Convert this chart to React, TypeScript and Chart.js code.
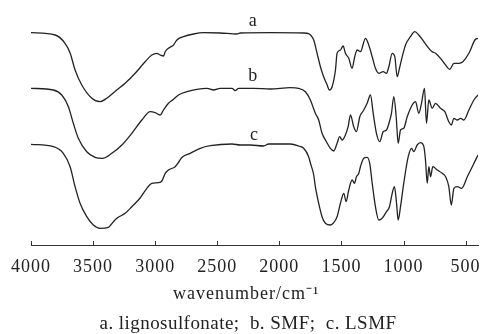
import React, { useEffect, useRef } from "react";
import { Chart, registerables } from "chart.js";

Chart.register(...registerables);

// Wavenumbers (cm^-1) and relative transmittance (a.u.)
const wnA = [4000, 3806, 3726, 3685, 3645, 3591, 3510, 3444, 3390, 3309, 3242, 3161, 3081, 3027, 2986, 2960, 2933, 2919, 2893, 2852, 2825, 2772, 2691, 2610, 2476, 2341, 2315, 2073, 1804, 1764, 1742, 1723, 1696, 1669, 1643, 1615, 1597, 1575, 1548, 1535, 1508, 1486, 1468, 1441, 1414, 1393, 1373, 1347, 1306, 1280, 1252, 1226, 1199, 1164, 1137, 1118, 1091, 1070, 1051, 1032, 1010, 984, 944, 909, 877, 836, 796, 769, 742, 702, 661, 627, 594, 554, 522, 473, 425, 400];
const tA = [212.3, 210, 201.7, 192, 175, 160, 146.7, 143.3, 146.7, 155, 161.7, 171.7, 183.3, 190, 191.7, 190, 189, 193.3, 196.7, 200, 205, 208.3, 211, 212.3, 212, 211, 212, 212.3, 212, 211.3, 209, 205, 191.7, 178.3, 168.3, 160, 155, 158.3, 175, 191.7, 195, 199, 191.7, 186.7, 176.7, 188.3, 195, 193.3, 206.7, 200, 188.3, 176.7, 171.7, 173.3, 171.7, 178.3, 191.7, 188.3, 168.3, 177, 188.3, 200, 208.3, 213.3, 210, 203.3, 196.7, 193.3, 191.7, 186.7, 180, 175.7, 181.7, 181.7, 183.3, 191.7, 205, 206.7];

const wnB = [4000, 3820, 3752, 3699, 3659, 3619, 3551, 3484, 3425, 3349, 3268, 3188, 3107, 3040, 3000, 2960, 2933, 2893, 2852, 2812, 2744, 2664, 2583, 2530, 2476, 2381, 2355, 2328, 2207, 2073, 1911, 1844, 1790, 1750, 1710, 1683, 1656, 1621, 1589, 1562, 1535, 1514, 1494, 1468, 1446, 1427, 1401, 1379, 1352, 1320, 1293, 1266, 1244, 1218, 1191, 1164, 1137, 1110, 1097, 1078, 1059, 1043, 1024, 998, 970, 930, 903, 877, 855, 831, 815, 796, 769, 742, 702, 667, 635, 615, 594, 567, 540, 514, 473, 433, 400];
const tB = [156.7, 155, 150, 138.3, 121.7, 106.7, 93.3, 87.7, 86.7, 91.7, 100, 111.7, 125, 133.3, 132.3, 130, 135, 141.7, 145.7, 150, 153.3, 155.7, 156.7, 155, 156.7, 156.7, 154.3, 156.7, 156.7, 156, 157.3, 156.7, 153.3, 145, 131.7, 125, 111.7, 103.3, 96.7, 94, 101.7, 108.3, 105, 110, 118.3, 130, 118.3, 113.3, 128.3, 135, 141.7, 150, 131.7, 111.7, 103.3, 113.3, 115, 125, 131.7, 148.3, 128.3, 101.7, 115, 116.7, 128.3, 140, 143.3, 131.7, 141.7, 156.7, 121.7, 145, 136.7, 141.7, 136.7, 133.3, 123.3, 120, 126.7, 125, 126.7, 125, 135, 145, 150];

const wnC = [4000, 3820, 3740, 3685, 3645, 3605, 3551, 3498, 3444, 3377, 3336, 3309, 3242, 3188, 3121, 3067, 3027, 2973, 2946, 2919, 2893, 2839, 2815, 2785, 2718, 2637, 2556, 2381, 2315, 2234, 2127, 2086, 1911, 1844, 1804, 1764, 1750, 1723, 1710, 1683, 1656, 1629, 1589, 1562, 1535, 1508, 1481, 1462, 1441, 1414, 1395, 1379, 1360, 1347, 1320, 1293, 1272, 1252, 1226, 1199, 1172, 1137, 1113, 1091, 1073, 1056, 1043, 1024, 998, 962, 935, 917, 890, 863, 836, 823, 809, 796, 782, 764, 728, 688, 661, 635, 615, 594, 567, 532, 486, 446, 400];
const tC = [100.7, 98.3, 91.7, 78.3, 58.3, 41.7, 28.3, 20, 16.7, 17.7, 23.3, 26.7, 31.7, 38.3, 47, 56.7, 61.7, 62.3, 64, 71.7, 75, 78.3, 82, 87.5, 91.7, 96.7, 99.3, 101, 100, 100, 99, 101, 101, 99, 96.7, 88.3, 82, 70, 58.3, 41.7, 28.3, 21.7, 20, 22.3, 28.3, 41.7, 51.7, 43.3, 55, 65, 61.7, 68.3, 71.7, 78.3, 86.7, 87.7, 81.7, 61.7, 38.3, 25, 26.7, 33.3, 38.3, 51.7, 58.3, 41.7, 25, 38.3, 61.7, 88.3, 96.7, 93.3, 100, 102.3, 98.3, 85, 61.7, 78.3, 68.3, 78.3, 75, 71.7, 68.3, 58.3, 40, 56.7, 58.3, 56.7, 68.3, 78.3, 90];

const curveLabels = ["a", "b", "c"];
const curveLabelWn = [2210, 2210, 2200];
const curveLabelT = [224, 169, 110];

const xTicks = [4000, 3500, 3000, 2500, 2000, 1500, 1000, 500];
const xMin = 400;
const xMax = 4000;
const yMin = 0;
const yMax = 245;

const xTitle = "wavenumber/cm\u207B\u00B9   ";
const caption = "a. lignosulfonate;  b. SMF;  c. LSMF";

const SERIF = "'Liberation Serif', 'Times New Roman', serif";
const INK = "#222";

const zip = (xs: number[], ys: number[]) => xs.map((x, i) => ({ x, y: ys[i] }));

export default function App() {
  const ref = useRef<HTMLCanvasElement | null>(null);

  useEffect(() => {
    if (!ref.current) return;
    const spacing = (chart: any) => {
      try {
        chart.ctx.letterSpacing = "1px";
      } catch (e) {
        /* ignore */
      }
    };
    const decor = {
      id: "decor",
      beforeUpdate: spacing,
      beforeLayout: spacing,
      beforeDraw: spacing,
      afterDraw(chart: any) {
        const ctx = chart.ctx;
        const xs = chart.scales.x;
        const ys = chart.scales.y;
        const bottom = chart.chartArea.bottom;
        ctx.save();
        ctx.strokeStyle = "#333";
        ctx.lineWidth = 1;
        xs.ticks.forEach((_t: any, i: number) => {
          const px = Math.round(xs.getPixelForTick(i)) + 0.5;
          ctx.beginPath();
          ctx.moveTo(px, bottom);
          ctx.lineTo(px, bottom - 4);
          ctx.stroke();
        });
        ctx.fillStyle = INK;
        ctx.font = `18px ${SERIF}`;
        ctx.textAlign = "center";
        ctx.textBaseline = "middle";
        curveLabels.forEach((lab, i) => {
          ctx.fillText(lab, xs.getPixelForValue(curveLabelWn[i]), ys.getPixelForValue(curveLabelT[i]));
        });
        // figure caption under the axis title
        try {
          ctx.letterSpacing = "0.45px";
        } catch (e) {
          /* ignore */
        }
        ctx.font = `19px ${SERIF}`;
        ctx.textBaseline = "alphabetic";
        ctx.fillText(caption, 248, 329);
        ctx.restore();
      },
    };

    const mk = (xs: number[], ys: number[]) => ({
      data: zip(xs, ys),
      borderColor: INK,
      borderWidth: 1.3,
      pointRadius: 0,
      fill: false,
      cubicInterpolationMode: "monotone" as const,
    });

    const chart = new Chart(ref.current, {
      type: "line",
      data: {
        datasets: [mk(wnA, tA), mk(wnB, tB), mk(wnC, tC)],
      },
      options: {
        animation: false,
        responsive: false,
        devicePixelRatio: 1,
        layout: { padding: { left: 31, right: 3, top: 0, bottom: 25 } },
        plugins: {
          legend: { display: false },
          tooltip: { enabled: false },
          title: { display: false },
        },
        scales: {
          x: {
            type: "linear",
            reverse: true,
            min: xMin,
            max: xMax,
            afterBuildTicks: (scale: any) => {
              scale.ticks = xTicks.map((v) => ({ value: v }));
            },
            afterFit: (scale: any) => {
              scale.height = 64;
              scale.paddingLeft = 0;
              scale.paddingRight = 0;
            },
            grid: { display: false, drawTicks: false },
            border: { display: true, color: "#333", width: 1 },
            ticks: {
              color: INK,
              font: { family: SERIF, size: 18, lineHeight: 1.2 },
              padding: 11,
              maxRotation: 0,
              autoSkip: false,
              callback: (v: any) => String(v),
            },
            title: {
              display: true,
              text: xTitle,
              color: INK,
              font: { family: SERIF, size: 18, lineHeight: 1.2 },
              padding: { top: 0, bottom: 4 },
            },
          },
          y: {
            display: false,
            min: yMin,
            max: yMax,
          },
        },
      },
      plugins: [decor],
    });
    return () => chart.destroy();
  }, []);

  return (
    <div style={{ position: "fixed", left: 0, top: 0, width: 481, height: 334, background: "#fff" }}>
      <canvas ref={ref} width={481} height={334} />
    </div>
  );
}
